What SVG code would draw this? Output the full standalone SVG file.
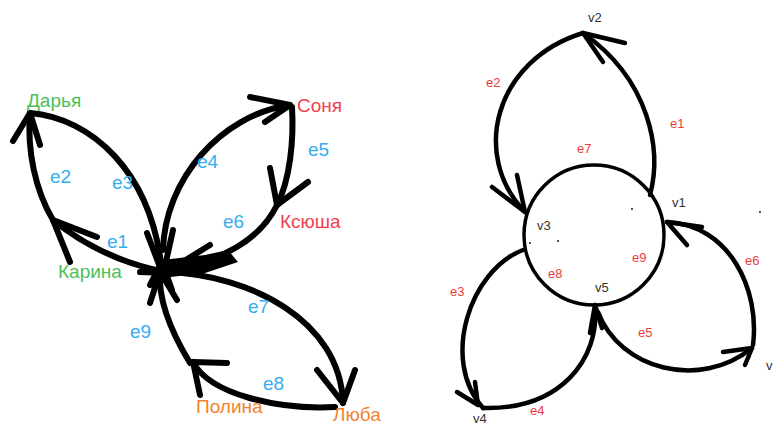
<svg xmlns="http://www.w3.org/2000/svg" width="775" height="426" viewBox="0 0 775 426">
<style>
.e{fill:none;stroke:#000;stroke-width:6;stroke-linecap:round;stroke-linejoin:round}
.r{fill:none;stroke:#000;stroke-width:4.5;stroke-linecap:round;stroke-linejoin:round}
.g{font-family:"Liberation Sans",Arial,sans-serif;font-size:19px;fill:#4cbf5a}
.rd{font-family:"Liberation Sans",Arial,sans-serif;font-size:19px;fill:#f2404c}
.o{font-family:"Liberation Sans",Arial,sans-serif;font-size:19px;fill:#f2832e}
.b{font-family:"Liberation Sans",Arial,sans-serif;font-size:19px;fill:#35aef0}
.v{font-family:"Liberation Sans",Arial,sans-serif;font-size:13px;fill:#333}
.lr{font-family:"Liberation Sans",Arial,sans-serif;font-size:13px;fill:#f03c3c}
</style>
<rect width="775" height="426" fill="#fff"/>
<g id="connectors">
  <!-- left graph -->
  <path class="e" d="M140,272 L165,273"/>
  <path class="e" d="M165,272 C130,265 90,250 53,220"/>
  <path class="e" d="M97,237 L53,220 L70,262"/>
  <path class="e" d="M53,220 C35,190 27,150 30,113"/>
  <path class="e" d="M13,141 L30,113 L40,145"/>
  <path class="e" d="M30,113 C90,118 152,170 162,272"/>
  <path class="e" d="M147,233 L163,275 L173,230"/>
  <path class="e" d="M163,250 C165,180 220,115 290,105"/>
  <path class="e" d="M250,97 L290,105 L265,122"/>
  <path class="e" d="M292,107 C294,140 290,180 277,205"/>
  <path class="e" d="M270,168 L277,205 L308,182"/>
  <path class="e" d="M277,205 C260,240 220,262 175,267"/>
  <path class="e" d="M210,245 L176,266"/>
  <polygon points="162,260 205,255 228,250 238,262 205,273 162,278" fill="#000"/>
  <path class="e" d="M167,272 C250,275 340,320 343,403"/>
  <path class="e" d="M317,370 L343,403 L355,370"/>
  <path class="e" d="M335,407 C280,410 210,395 193,362"/>
  <path class="e" d="M227,363 L193,362 L200,395"/>
  <path class="e" d="M190,363 C170,330 158,300 160,272"/>
  <path class="e" d="M150,303 L160,272 L177,300"/>
  <path class="e" d="M150,285 L162,262 L172,290"/>
  <!-- right graph -->
  <circle cx="594" cy="235" r="70" fill="none" stroke="#000" stroke-width="3.5"/>
  <path class="r" d="M650,195 C662,150 650,80 583,33"/>
  <path class="r" d="M625,43 L583,33 L603,62"/>
  <path class="r" d="M583,33 C495,60 470,155 525,212"/>
  <path class="r" d="M492,187 L525,212 L517,175"/>
  <path class="r" d="M523,250 C470,270 440,360 483,408"/>
  <path class="r" d="M457,392 L478,405 L475,382"/>
  <path class="r" d="M483,408 C560,410 600,360 595,305"/>
  <path class="r" d="M590,333 L595,305 L602,328"/>
  <path class="r" d="M598,312 C620,370 700,390 752,348"/>
  <path class="r" d="M723,352 L752,348 L745,365"/>
  <path class="r" d="M753,345 C760,290 730,225 667,222"/>
  <path class="r" d="M702,227 L667,222 L687,245"/>
  <g fill="#000">
    <circle cx="632" cy="209" r="0.9"/>
    <circle cx="760" cy="212" r="0.9"/>
    <circle cx="530" cy="243" r="0.9"/>
    <circle cx="558" cy="241" r="0.9"/>
  </g>
</g>
<!-- left graph nodes -->
<g id="darya"><text class="g" x="27" y="107">Дарья</text></g>
<g id="sonya"><text class="rd" x="297" y="112">Соня</text></g>
<g id="ksyusha"><text class="rd" x="280" y="228">Ксюша</text></g>
<g id="karina"><text class="g" x="58" y="278">Карина</text></g>
<g id="polina"><text class="o" x="196" y="413">Полина</text></g>
<g id="lyuba"><text class="o" x="333" y="421">Люба</text></g>
<g id="left-edge-labels">
  <text class="b" x="50" y="183">e2</text>
  <text class="b" x="112" y="189">e3</text>
  <text class="b" x="197" y="168">e4</text>
  <text class="b" x="308" y="156">e5</text>
  <text class="b" x="223" y="228">e6</text>
  <text class="b" x="107" y="248">e1</text>
  <text class="b" x="248" y="313">e7</text>
  <text class="b" x="130" y="338">e9</text>
  <text class="b" x="263" y="390">e8</text>
</g>
<!-- right graph nodes -->
<g id="v1"><text class="v" x="672" y="207">v1</text></g>
<g id="v2"><text class="v" x="588" y="22">v2</text></g>
<g id="v3"><text class="v" x="537" y="230">v3</text></g>
<g id="v4"><text class="v" x="473" y="423">v4</text></g>
<g id="v5"><text class="v" x="595" y="292">v5</text></g>
<g id="v6"><text class="v" x="766" y="370">v</text></g>
<g id="right-edge-labels">
  <text class="lr" x="486" y="87">e2</text>
  <text class="lr" x="670" y="128">e1</text>
  <text class="lr" x="577" y="153">e7</text>
  <text class="lr" x="632" y="262">e9</text>
  <text class="lr" x="548" y="278">e8</text>
  <text class="lr" x="745" y="265">e6</text>
  <text class="lr" x="450" y="296">e3</text>
  <text class="lr" x="638" y="337">e5</text>
  <text class="lr" x="530" y="415">e4</text>
</g>
</svg>
